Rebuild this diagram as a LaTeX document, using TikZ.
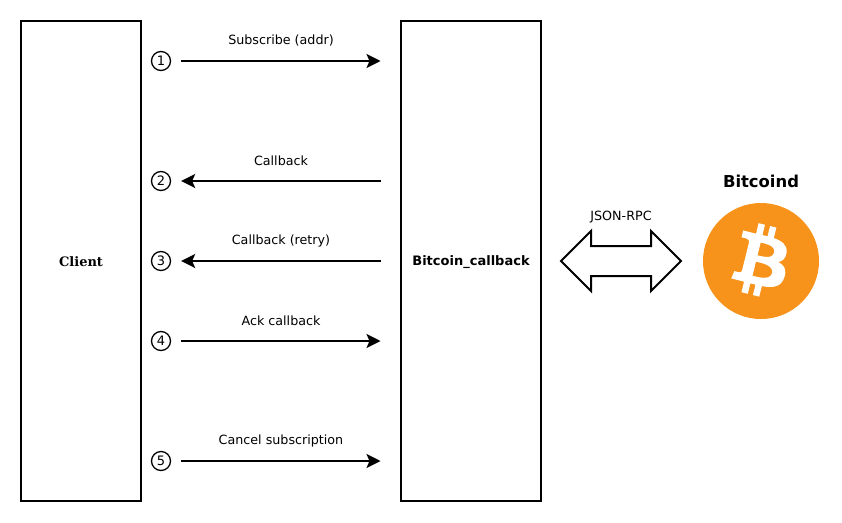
\documentclass[tikz,border=0pt]{standalone}
\usepackage{fontspec}
\setmainfont{DejaVu Sans}
\newfontfamily\serifbold{DejaVu Serif}
\usetikzlibrary{arrows.meta,svg.path}
\definecolor{btc}{HTML}{F7931A}
\tikzset{
  actor/.style={draw,line width=2pt,minimum height=480pt,inner sep=0pt,anchor=center},
  stepnum/.style={draw,circle,line width=1.3pt,minimum size=19pt,inner sep=0pt,font=\fontsize{13}{14}\selectfont},
  msg/.style={line width=2pt,-{Stealth[length=14pt,width=14pt,inset=3pt]},shorten <=10pt,shorten >=19.5pt},
  msgback/.style={line width=2pt,{Stealth[length=14pt,width=14pt,inset=3pt]}-,shorten <=10pt,shorten >=19.5pt},
  lab/.style={inner sep=0pt,font=\fontsize{12.7}{15}\selectfont},
  clientlab/.style={inner sep=0pt,yshift=-0.7pt,font=\serifbold\bfseries\fontsize{13}{15}\selectfont},
  serverlab/.style={inner sep=0pt,yshift=-0.7pt,font=\bfseries\fontsize{13}{15}\selectfont}
}
\begin{document}
\begin{tikzpicture}[x=1pt,y=-1pt]
\useasboundingbox (0,0) rectangle (842,522);
\node[actor,minimum width=120pt] (client) at (81,261) {};
\node[actor,minimum width=140pt] (server) at (471,261) {};
\node[clientlab] (clienttext) at (client.center) {Client};
\node[serverlab] (servertext) at (server.center) {Bitcoin\_callback};
\node[stepnum] (n1) at (161,61) {1};
\node[stepnum] (n2) at (161,181) {2};
\node[stepnum] (n3) at (161,261) {3};
\node[stepnum] (n4) at (161,341) {4};
\node[stepnum] (n5) at (161,461) {5};
\draw[msg] (n1.east) -- (n1.east -| server.west);
\draw[msgback] (n2.east) -- (n2.east -| server.west);
\draw[msgback] (n3.east) -- (n3.east -| server.west);
\draw[msg] (n4.east) -- (n4.east -| server.west);
\draw[msg] (n5.east) -- (n5.east -| server.west);
\node[lab] (l1) at (281,41) {Subscribe (addr)};
\node[lab] (l2) at (281,161) {Callback};
\node[lab] (l3) at (281,241) {Callback (retry)};
\node[lab] (l4) at (281,321) {Ack callback};
\node[lab] (l5) at (281,441) {Cancel subscription};
\node[lab] (rpc) at (621,217) {JSON-RPC};
\draw[line width=2pt,line join=miter] (561,261) -- (591,231) -- (591,246) -- (651,246) -- (651,231) -- (681,261) -- (651,291) -- (651,276) -- (591,276) -- (591,291) -- cycle;
\node[inner sep=0pt,font=\bfseries\fontsize{16.4}{19}\selectfont] (btclab) at (761,181) {Bitcoind};
\begin{scope}[shift={(703,203)},x=1pt,y=1pt,yscale=-1,scale=1.8125]
\fill[btc] (32,32) circle[radius=32];
\fill[white,even odd rule] svg {M46.11 27.441c.636-4.258-2.606-6.547-7.039-8.074l1.438-5.768-3.512-.875-1.4 5.616c-.922-.23-1.87-.447-2.812-.662l1.41-5.653-3.509-.875-1.439 5.766c-.764-.174-1.514-.346-2.242-.527l.004-.018-4.842-1.209-.934 3.75s2.605.597 2.55.634c1.422.355 1.68 1.296 1.636 2.042l-1.638 6.571c.098.025.225.061.365.117l-.37-.092-2.297 9.205c-.174.432-.615 1.08-1.609.834.035.051-2.552-.637-2.552-.637l-1.743 4.02 4.57 1.139c.85.213 1.683.436 2.502.646l-1.453 5.835 3.507.875 1.44-5.772c.957.26 1.887.5 2.797.726L27.504 50.8l3.511.875 1.453-5.823c5.987 1.133 10.49.676 12.383-4.738 1.527-4.36-.075-6.875-3.225-8.516 2.294-.531 4.022-2.04 4.483-5.157zM38.087 38.69c-1.086 4.36-8.426 2.004-10.807 1.412l1.928-7.729c2.38.594 10.011 1.77 8.88 6.317zm1.085-11.312c-.99 3.966-7.1 1.951-9.082 1.457l1.748-7.01c1.982.494 8.365 1.416 7.334 5.553z};
\end{scope}
\end{tikzpicture}
\end{document}
